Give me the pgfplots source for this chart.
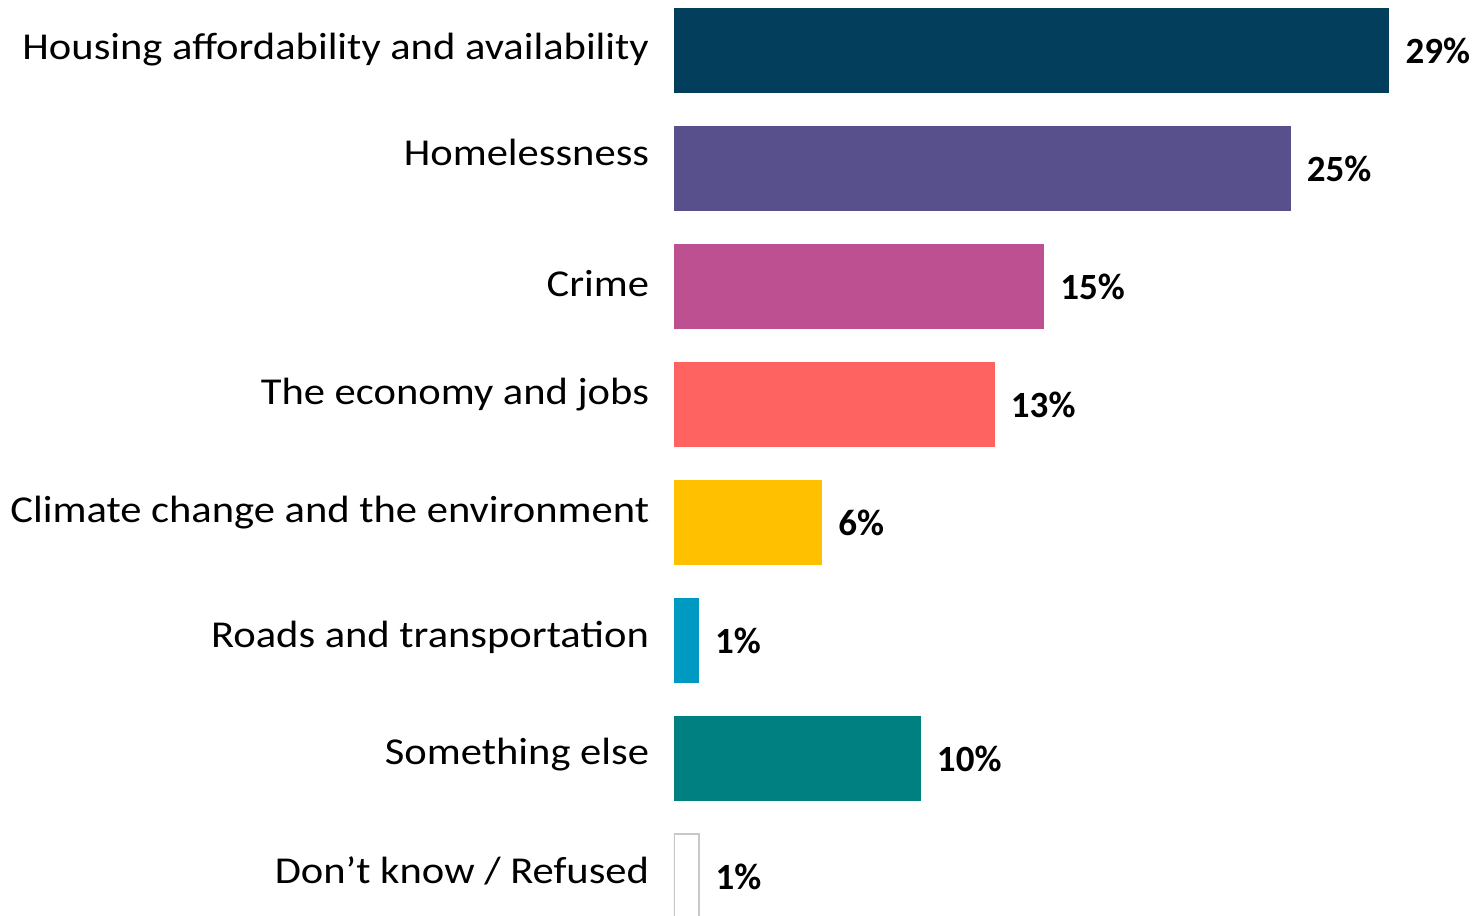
\documentclass[border=0pt]{standalone}
\usepackage{fontspec}
\setmainfont{Carlito}
\newfontfamily\catfont{Carlito}[FakeStretch=1.12]
\usepackage{pgfplots}
\pgfplotsset{compat=1.18}

\definecolor{c1}{HTML}{033F5C}
\definecolor{c2}{HTML}{58508D}
\definecolor{c3}{HTML}{BC5090}
\definecolor{c4}{HTML}{FF6361}
\definecolor{c5}{HTML}{FFC000}
\definecolor{c6}{HTML}{0099C1}
\definecolor{c7}{HTML}{008080}
\definecolor{c8}{HTML}{C8C8C8}

\begin{document}
\begin{tikzpicture}
\begin{axis}[
    name=ax,
    scale only axis,
    width=400pt, height=458pt,
    xbar, bar shift=0pt, bar width=42.5pt,
    xmin=0, xmax=32.44,
    ymin=-0.428, ymax=7.335,
    y dir=reverse,
    clip=true,
    axis line style={draw=none},
    tick style={draw=none},
    xtick=\empty,
    ytick={0,1,2,3,4,5,6,7},
    yticklabels={
        \raisebox{-4.75pt}{Housing affordability and availability},
        \raisebox{1.25pt}{Homelessness},
        \raisebox{-5pt}{Crime},
        \raisebox{-0.25pt}{The economy and jobs},
        \raisebox{-0.25pt}{Climate change and the environment},
        \raisebox{-3.5pt}{Roads and transportation},
        \raisebox{-3.25pt}{Something else},
        \raisebox{-3.5pt}{Don’t know / Refused}},
    yticklabel style={font=\catfont\fontsize{19}{21}\selectfont, inner sep=0pt,
        anchor=base east, xshift=-8pt},
    nodes near coords={\pgfmathprintnumber[assume math mode=true]{\pgfplotspointmeta}\%},
    nodes near coords style={font=\bfseries\fontsize{18.5}{20}\selectfont, anchor=west,
        inner sep=0pt, xshift=8pt, text=black},
    point meta=x,
  ]
  \addplot[fill=c1, draw=none] coordinates {(29,0)};
  \addplot[fill=c2, draw=none] coordinates {(25,1)};
  \addplot[fill=c3, draw=none] coordinates {(15,2)};
  \addplot[fill=c4, draw=none] coordinates {(13,3)};
  \addplot[fill=c5, draw=none] coordinates {(6,4)};
  \addplot[fill=c6, draw=none] coordinates {(1,5)};
  \addplot[fill=c7, draw=none] coordinates {(10,6)};
  \addplot[fill=white, draw=c8, line width=1pt] coordinates {(1,7)};
\end{axis}
\pgfresetboundingbox
\path[use as bounding box] ([xshift=-337pt]ax.south west) rectangle (ax.north east);
\end{tikzpicture}
\end{document}
